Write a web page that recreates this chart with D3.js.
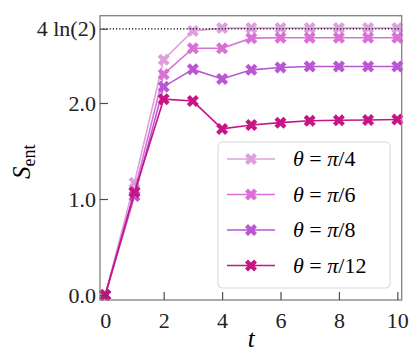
<!DOCTYPE html>
<html>
<head>
<meta charset="utf-8">
<script src="https://cdn.jsdelivr.net/npm/d3@7"></script>
<style>
  html, body { margin: 0; padding: 0; background: #fff; }
  text { font-family: "Liberation Serif", "DejaVu Serif", serif; }
</style>
</head>
<body>
<div class="vis"></div>
<script>
// data
const times = [0, 1, 2, 3, 4, 5, 6, 7, 8, 9, 10];
const sPi4  = [0, 1.17, 2.45, 2.75, 2.78, 2.78, 2.78, 2.78, 2.78, 2.78, 2.78];
const sPi6  = [0, 1.08, 2.30, 2.57, 2.57, 2.675, 2.68, 2.68, 2.68, 2.68, 2.68];
const sPi8  = [0, 1.03, 2.17, 2.35, 2.25, 2.345, 2.37, 2.38, 2.38, 2.38, 2.38];
const sPi12 = [0, 1.07, 2.04, 2.02, 1.73, 1.77, 1.795, 1.815, 1.82, 1.823, 1.828];
const seriesNames = ["π/4", "π/6", "π/8", "π/12"];
const seriesColors = ["plum", "orchid", "mediumorchid", "mediumvioletred"];
const xTicks = [0, 2, 4, 6, 8, 10];
const yTicks = [0, 1, 2];
const yTickLabels = ["0.0", "1.0", "2.0"];
const ln2x4 = 4 * Math.log(2);

const series = [sPi4, sPi6, sPi8, sPi12].map((vals, i) => ({
    name: seriesNames[i],
    color: seriesColors[i],
    points: times.map((t, j) => ({t: t, s: vals[j]}))
}));

const W = 415, H = 358;
const plot = {left: 100, right: 401.7, top: 15.7, bottom: 300};

const x = d3.scaleLinear().domain([-0.18, 10.15]).range([plot.left, plot.right]);
const y = d3.scaleLinear().domain([-0.052, 2.909]).range([plot.bottom, plot.top]);

const svg = d3.select(".vis").append("svg")
    .attr("width", W)
    .attr("height", H);

// matplotlib style filled "X" marker
function xMarker(size) {
    const u = size;
    const pts = [[-0.25,-0.5],[0,-0.25],[0.25,-0.5],[0.5,-0.25],[0.25,0],[0.5,0.25],
                 [0.25,0.5],[0,0.25],[-0.25,0.5],[-0.5,0.25],[-0.25,0],[-0.5,-0.25]];
    return "M" + pts.map(p => (p[0]*u).toFixed(2) + "," + (p[1]*u).toFixed(2)).join("L") + "Z";
}

const line = d3.line().x(d => x(d.t)).y(d => y(d.s));

const dataG = svg.append("g");
series.forEach(sr => {
    const g = dataG.append("g");
    g.append("path")
        .attr("d", line(sr.points))
        .attr("fill", "none")
        .attr("stroke", sr.color)
        .attr("stroke-width", 1.6);
    g.selectAll("path.mk")
        .data(sr.points)
        .enter().append("path")
        .attr("class", "mk")
        .attr("d", xMarker(12))
        .attr("transform", d => `translate(${x(d.t)},${y(d.s)})`)
        .attr("fill", sr.color);
});

// 4 ln(2) reference line
svg.append("line")
    .attr("x1", plot.left).attr("x2", plot.right)
    .attr("y1", y(ln2x4)).attr("y2", y(ln2x4))
    .attr("stroke", "#000")
    .attr("stroke-width", 1.2)
    .attr("stroke-dasharray", "1.2,2");

// legend
const leg = svg.append("g").attr("transform", "translate(218,142)");
leg.append("rect")
    .attr("width", 172).attr("height", 146)
    .attr("rx", 4)
    .attr("fill", "#fff").attr("fill-opacity", 0.85)
    .attr("stroke", "#d6d6d6").attr("stroke-width", 1);
series.forEach((sr, i) => {
    const ry = 17 + i * 35.5;
    leg.append("line")
        .attr("x1", 9).attr("x2", 57).attr("y1", ry).attr("y2", ry)
        .attr("stroke", sr.color).attr("stroke-width", 1.6);
    leg.append("path")
        .attr("d", xMarker(12))
        .attr("transform", `translate(33,${ry})`)
        .attr("fill", sr.color);
    const parts = sr.name.split("/");
    const t = leg.append("text")
        .attr("x", 75).attr("y", ry + 7)
        .attr("font-size", 22);
    t.append("tspan").attr("font-style", "italic").text("θ");
    t.append("tspan").text(" = ");
    t.append("tspan").attr("font-style", "italic").text(parts[0]);
    t.append("tspan").text("/" + parts[1]);
});

// frame
svg.append("rect")
    .attr("x", plot.left).attr("y", plot.top)
    .attr("width", plot.right - plot.left).attr("height", plot.bottom - plot.top)
    .attr("fill", "none").attr("stroke", "#808080").attr("stroke-width", 1.3);

// x axis (ticks inward)
const xAxis = svg.append("g")
    .attr("transform", `translate(0,${plot.bottom})`)
    .call(d3.axisBottom(x).tickValues(xTicks).tickSize(-8).tickPadding(12).tickFormat(d3.format("d")));
xAxis.select(".domain").remove();
xAxis.selectAll(".tick line").attr("stroke", "#4d4d4d").attr("stroke-width", 1.2);
xAxis.selectAll(".tick text").attr("font-size", 22).attr("fill", "#222")
    .attr("font-family", "Liberation Serif, serif");

// y axis (ticks inward)
const yAxis = svg.append("g")
    .attr("transform", `translate(${plot.left},0)`)
    .call(d3.axisLeft(y).tickValues(yTicks.concat([ln2x4])).tickSize(-8).tickPadding(4)
        .tickFormat(d => d === ln2x4 ? "4 ln(2)" : yTickLabels[yTicks.indexOf(d)]));
yAxis.select(".domain").remove();
yAxis.selectAll(".tick line").attr("stroke", "#4d4d4d").attr("stroke-width", 1.2);
yAxis.selectAll(".tick text").attr("font-size", 22).attr("fill", "#222")
    .attr("font-family", "Liberation Serif, serif");

// axis labels
svg.append("text")
    .attr("x", x(5)).attr("y", 347)
    .attr("text-anchor", "middle")
    .attr("font-size", 25).attr("font-style", "italic")
    .text("t");

const yl = svg.append("text")
    .attr("transform", `translate(30,${(plot.top + plot.bottom) / 2 + 4}) rotate(-90)`)
    .attr("text-anchor", "middle")
    .attr("font-size", 25);
yl.append("tspan").attr("font-style", "italic").text("S");
yl.append("tspan").attr("font-size", 18).attr("dy", 5).text("ent");
</script>
</body>
</html>
